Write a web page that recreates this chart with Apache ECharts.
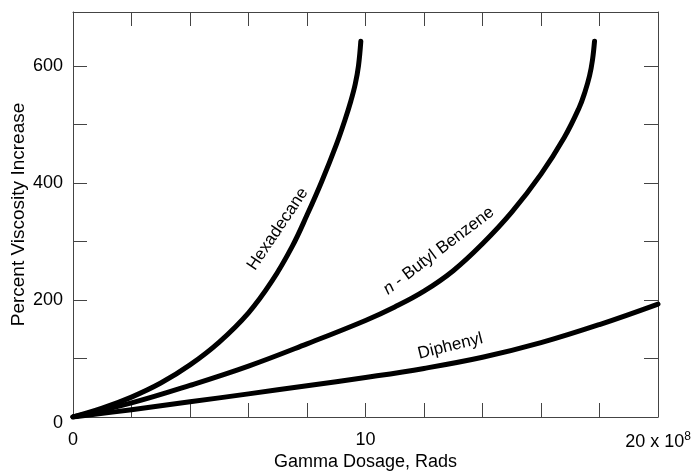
<!DOCTYPE html>
<html><head><meta charset="utf-8">
<script src="https://cdn.jsdelivr.net/npm/echarts@6/dist/echarts.min.js"></script>
<style>html,body{margin:0;padding:0;background:#fff}#c{width:700px;height:474px}</style>
</head><body><div id="c"></div>
<script>
// Gamma dosage (x 10^8 rads) and percent viscosity increase
const hexX = [0, 1, 2, 3, 4, 5, 6, 6.8, 7.5, 8.0, 8.5, 9.0, 9.3, 9.5, 9.65, 9.76, 9.84];
const hexY = [0, 15, 34, 58, 89, 128, 178, 232, 292, 345, 402, 465, 508, 540, 569, 600, 642];
const butX = [0, 2, 4, 6, 8, 10, 11, 12, 13, 14, 15, 16, 16.8, 17.3, 17.5, 17.66, 17.76, 17.83];
const butY = [0, 24, 54, 87, 125, 165, 188, 215, 250, 296, 350, 415, 478, 528, 555, 583, 610, 642];
const dipX = [0, 2, 4, 6, 8, 10, 12, 14, 16, 18, 20];
const dipY = [0, 12.5, 26, 39.5, 53.5, 67.5, 83, 102, 127, 158, 193];
const seriesNames = ['Hexadecane', 'n - Butyl Benzene', 'Diphenyl'];
const xLabelValues = [0, 10, 20];
const yLabelValues = [0, 200, 400, 600];
const xTitle = 'Gamma Dosage, Rads';
const yTitle = 'Percent Viscosity Increase';
// where the curve names sit (data coordinates) and their angle
const labelAnchors = [[7.0, 321], [12.5, 284], [12.9, 121]];
const labelAngles = [56, 37, 14];

const FONT = '"Liberation Sans", Arial, sans-serif';
const AX = '#444';
const pairs = (xs, ys) => xs.map((x, i) => [x, ys[i]]);

const chart = echarts.init(document.getElementById('c'), null, {renderer: 'canvas'});
const axisLineStyle = {show: true, onZero: false, lineStyle: {color: AX, width: 1}};
const tick = {show: true, inside: true, length: 14, lineStyle: {color: AX, width: 1}};
const xBase = {type: 'value', min: 0, max: 20, interval: 2, splitLine: {show: false}, axisLine: axisLineStyle, axisTick: tick};
const yBase = {type: 'value', min: 0, max: 692, interval: 100, splitLine: {show: false}, axisLine: axisLineStyle, axisTick: tick};

const lineSeries = (name, data) => ({
  name, type: 'line', data, smooth: 0.4, showSymbol: false, symbol: 'none',
  xAxisIndex: 0, yAxisIndex: 0,
  lineStyle: {color: '#000', width: 5, cap: 'round', join: 'round'}, emphasis: {disabled: true}, animation: false
});

chart.setOption({
  animation: false,
  grid: {left: 73, right: 42, top: 12, bottom: 57, containLabel: false, outerBoundsMode: 'none'},
  xAxis: [
    Object.assign({}, xBase, {
      position: 'bottom', name: xTitle, nameLocation: 'middle', nameGap: 36, nameMoveOverlap: false,
      nameTextStyle: {fontFamily: FONT, fontSize: 18, color: '#000'},
      axisLabel: {
        margin: 14, fontFamily: FONT, fontSize: 18, color: '#000',
        formatter: v => xLabelValues.includes(v) ? (v === 20 ? '20 x 10{sup|8}' : String(v)) : '',
        rich: {sup: {fontFamily: FONT, fontSize: 12, color: '#000', padding: [0, 0, 10, 0]}}
      }
    }),
    Object.assign({}, xBase, {position: 'top', axisLabel: {show: false}})
  ],
  yAxis: [
    Object.assign({}, yBase, {
      position: 'left', name: yTitle, nameLocation: 'middle', nameGap: 45, nameMoveOverlap: false,
      nameTextStyle: {fontFamily: FONT, fontSize: 19, color: '#000'},
      axisLabel: {
        margin: 10, fontFamily: FONT, fontSize: 18, color: '#000',
        formatter: v => yLabelValues.includes(v) ? (v === 0 ? '{z|0}' : String(v)) : '',
        rich: {z: {fontFamily: FONT, fontSize: 18, color: '#000', padding: [12, 0, 0, 0]}}
      }
    }),
    Object.assign({}, yBase, {position: 'right', axisLabel: {show: false}})
  ],
  series: [
    lineSeries(seriesNames[0], pairs(hexX, hexY)),
    lineSeries(seriesNames[1], pairs(butX, butY)),
    lineSeries(seriesNames[2], pairs(dipX, dipY))
  ]
});

const texts = ['Hexadecane', '{i|n} - Butyl Benzene', 'Diphenyl'];
chart.setOption({
  graphic: texts.map((t, i) => {
    const p = chart.convertToPixel({gridIndex: 0}, labelAnchors[i]);
    return {
      type: 'text', x: p[0], y: p[1], rotation: labelAngles[i] * Math.PI / 180, z: 100,
      style: {
        text: t, fontFamily: FONT, fontSize: 17, fill: '#000', align: 'center', verticalAlign: 'middle',
        rich: {i: {fontFamily: FONT, fontSize: 17, fontStyle: 'italic', fill: '#000'}}
      }
    };
  })
});
</script>
</body></html>
